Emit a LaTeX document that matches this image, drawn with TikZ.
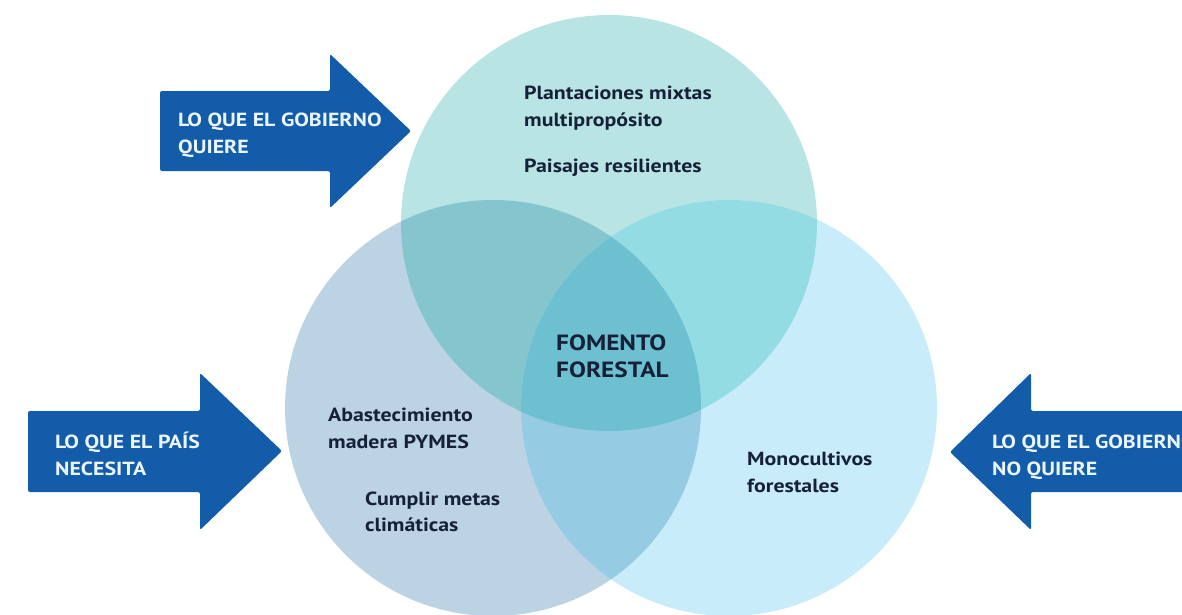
\documentclass[tikz,border=0pt]{standalone}
\usepackage{fontspec}
\setmainfont{PT Sans}[FakeStretch=1.15]
\usetikzlibrary{calc}

\begin{document}
\begin{tikzpicture}[x=1pt, y=-1pt,
				every text node part/.style={align=left},
				txt/.style={inner sep=0pt, anchor=north west, text=ink, font=\bfseries\fontsize{19}{26}\selectfont},
				tag/.style={inner sep=0pt, anchor=north west, text=tagtext, font=\bfseries\fontsize{19}{27}\selectfont},
				arrowbox/.style={fill=govblue, rounded corners=2pt}]

					\definecolor{govblue}{RGB}{18,92,170}
					\definecolor{tagtext}{RGB}{236,246,255}
					\definecolor{ink}{RGB}{22,32,56}
					\definecolor{topc}{RGB}{184,229,227}
					\definecolor{leftc}{RGB}{188,211,227}
					\definecolor{rightc}{RGB}{201,236,250}
					\definecolor{tlc}{RGB}{133,198,206}
					\definecolor{trc}{RGB}{148,220,228}
					\definecolor{lrc}{RGB}{150,203,228}
					\definecolor{midc}{RGB}{108,192,208}

					\clip (0,0) rectangle (1182,614);

					\coordinate (ctop) at (609,223);
					\coordinate (cleft) at (493,408);
					\coordinate (cright) at (729,408);

					% the three sets
					\fill[topc] (ctop) circle (208);
					\fill[leftc] (cleft) circle (208);
					\fill[rightc] (cright) circle (208);
					\begin{scope}
						\clip (ctop) circle (208);
						\fill[tlc] (cleft) circle (208);
						\fill[trc] (cright) circle (208);
					\end{scope}
					\begin{scope}
						\clip (cleft) circle (208);
						\fill[lrc] (cright) circle (208);
					\end{scope}
					\begin{scope}
						\clip (ctop) circle (208);
						\clip (cleft) circle (208);
						\fill[midc] (cright) circle (208);
					\end{scope}

					% arrows
					\fill[arrowbox] (160,91) -- (330,91) -- (330,54) -- (411,131) -- (330,208) -- (330,171) -- (160,171) -- cycle;
					\fill[arrowbox] (28,411) -- (200,411) -- (200,373) -- (282,451) -- (200,530) -- (200,492) -- (28,492) -- cycle;
					\fill[arrowbox] (1200,411) -- (1031,411) -- (1031,373) -- (950,452) -- (1031,530) -- (1031,492) -- (1200,492) -- cycle;

					\node[tag] (quiere) at (178,113) {LO QUE EL GOBIERNO\\QUIERE};
					\node[tag] (necesita) at (55,432) {LO QUE EL PAÍS\\NECESITA};
					\node[tag] (noquiere) at (992,435) {LO QUE EL GOBIERNO\\NO QUIERE};

					% texts in the sets
					\node[txt, font=\bfseries\fontsize{19}{27}\selectfont] (mixtas) at (524,86) {Plantaciones mixtas\\multipropósito};
					\node[txt] (paisajes) at (524,159) {Paisajes resilientes};
					\node[txt, font=\bfseries\fontsize{22}{27}\selectfont] (fomento) at (556,335) {FOMENTO\\FORESTAL};
					\node[txt, font=\bfseries\fontsize{19}{27}\selectfont] (pymes) at (328,408) {Abastecimiento\\madera PYMES};
					\node[txt] (metas) at (365,492) {Cumplir metas\\climáticas};
					\node[txt, font=\bfseries\fontsize{19}{27}\selectfont] (mono) at (747,452) {Monocultivos\\forestales};
				\end{tikzpicture}
\end{document}
